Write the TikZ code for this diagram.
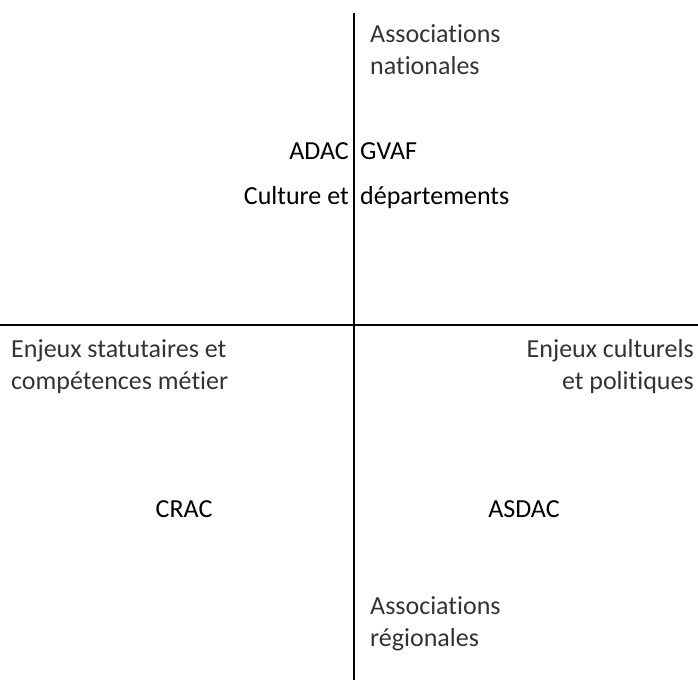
\documentclass[tikz,border=0pt]{standalone}
\usepackage{fontspec}
\setmainfont[Ligatures=NoCommon]{Carlito}
\begin{document}
\begin{tikzpicture}[x=1pt,y=-1pt,
  lbl/.style={inner sep=0pt, font=\fontsize{26}{31.5}\selectfont, text=black!80},
  key/.style={inner sep=0pt, font=\fontsize{26}{31.5}\selectfont, text=black},
  axis/.style={line width=2pt, draw=black}]
\useasboundingbox (0,0) rectangle (698,681);
\coordinate (vt) at (354,13);
\coordinate (vb) at (354,680);
\coordinate (hl) at (0,325);
\coordinate (hr) at (698,325);
\draw[axis] (vt) -- (vb);
\draw[axis] (hl) -- (hr);
\node[lbl, anchor=base west, align=left] (nat) at (370,74) {Associations\\nationales};
\node[key, anchor=base east] (adac) at (349,159) {ADAC};
\node[key, anchor=base west] (gvaf) at (360,159) {GVAF};
\node[key, anchor=base east] (cult) at (349,204) {Culture et};
\node[key, anchor=base west] (dep) at (360,204) {départements};
\node[lbl, anchor=base west, align=left] (stat) at (11,389) {Enjeux statutaires et\\compétences métier};
\node[lbl, anchor=base east, align=right] (pol) at (694,389) {Enjeux culturels\\et politiques};
\node[key, anchor=base] (crac) at (184,517) {CRAC};
\node[key, anchor=base] (asdac) at (524,517) {ASDAC};
\node[lbl, anchor=base west, align=left] (reg) at (370,646) {Associations\\régionales};
\end{tikzpicture}
\end{document}
